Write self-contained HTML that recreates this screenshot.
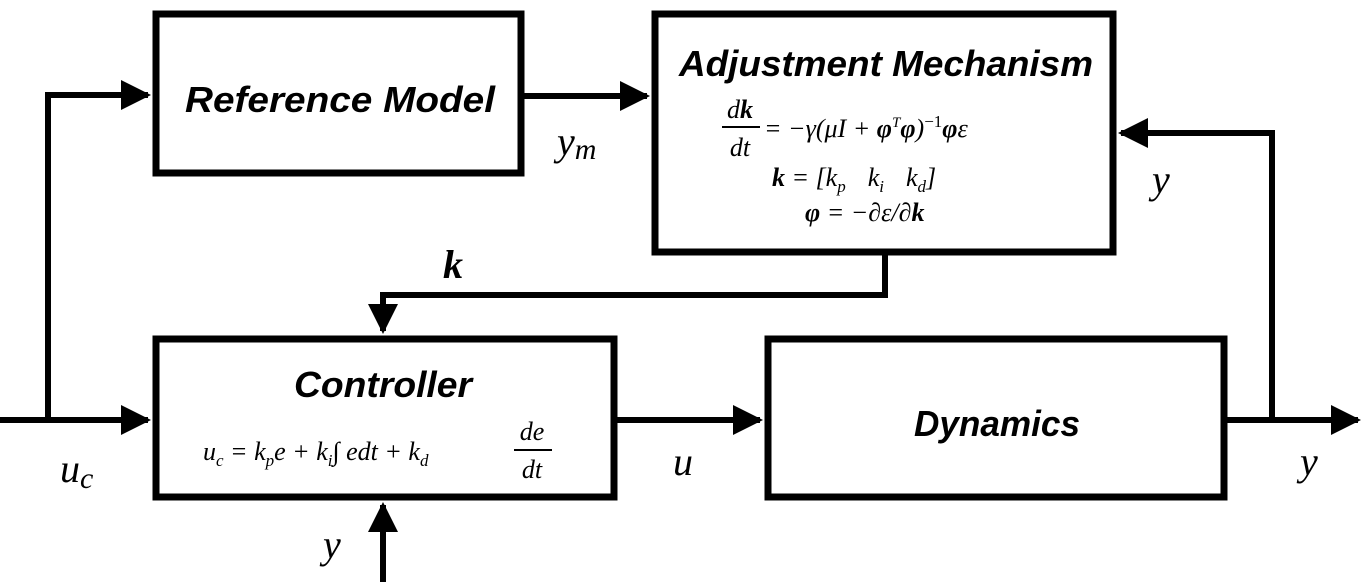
<!DOCTYPE html>
<html><head><meta charset="utf-8"><style>
html,body{margin:0;padding:0;background:#fff;}
svg{display:block}
.t{font-family:"Liberation Sans",sans-serif;font-weight:bold;font-style:italic;}
.m{font-family:"Liberation Serif",serif;font-style:italic;}
.r{font-family:"Liberation Serif",serif;font-style:normal;}
</style></head><body>
<svg width="1367" height="582" viewBox="0 0 1367 582" xmlns="http://www.w3.org/2000/svg">
<defs>
<marker id="a" markerWidth="5" markerHeight="5" refX="4.5" refY="2.5" orient="auto" markerUnits="strokeWidth"><path d="M0,0 L5,2.5 L0,5z" fill="#000"/></marker>
</defs>
<g fill="none" stroke="#000" stroke-width="7">
<rect x="156" y="14" width="365" height="159"/>
<rect x="655" y="14" width="458" height="238"/>
<rect x="156" y="339" width="458" height="158"/>
<rect x="768" y="339" width="456" height="158"/>
</g>
<g fill="none" stroke="#000" stroke-width="6">
<path d="M0,420 H148" marker-end="url(#a)"/>
<path d="M48,420 V95 H148" marker-end="url(#a)"/>
<path d="M524,96 H647" marker-end="url(#a)"/>
<path d="M885,255 V295 H383 V331" marker-end="url(#a)"/>
<path d="M617,420 H760" marker-end="url(#a)"/>
<path d="M1227,420 H1358" marker-end="url(#a)"/>
<path d="M1272,420 V133 H1121" marker-end="url(#a)"/>
<path d="M383,582 V505" marker-end="url(#a)"/>
</g>
<text class="t" x="340" y="112" font-size="36" text-anchor="middle" textLength="310" lengthAdjust="spacingAndGlyphs">Reference Model</text>
<text class="t" x="886" y="76" font-size="36" text-anchor="middle" textLength="414" lengthAdjust="spacingAndGlyphs">Adjustment Mechanism</text>
<text class="t" x="383" y="397" font-size="36" text-anchor="middle" textLength="178" lengthAdjust="spacingAndGlyphs">Controller</text>
<text class="t" x="997" y="436" font-size="36" text-anchor="middle" textLength="166" lengthAdjust="spacingAndGlyphs">Dynamics</text>
<!-- adjustment equations -->
<g font-size="26">
<text class="m" x="740" y="118" text-anchor="middle">d<tspan font-weight="bold">k</tspan></text>
<line x1="722" y1="127" x2="760" y2="127" stroke="#000" stroke-width="2"/>
<text class="m" x="740" y="156" text-anchor="middle">dt</text>
<text class="m" x="764" y="137">= −γ(μI + <tspan font-weight="bold">φ</tspan><tspan font-size="15" dy="-10">T</tspan><tspan font-weight="bold" dy="10">φ</tspan>)<tspan font-size="17" dy="-10" class="r">−1</tspan><tspan dy="10" font-weight="bold">φ</tspan>ε</text>
<text class="m" x="772" y="186"><tspan font-weight="bold">k</tspan> = [k<tspan font-size="17" dy="6">p</tspan><tspan dy="-6" dx="22">k</tspan><tspan font-size="17" dy="6">i</tspan><tspan dy="-6" dx="22">k</tspan><tspan font-size="17" dy="6">d</tspan><tspan dy="-6">]</tspan></text>
<text class="m" x="805" y="221"><tspan font-weight="bold">φ</tspan> = −∂ε/∂<tspan font-weight="bold">k</tspan></text>
</g>
<!-- controller eq -->
<g font-size="26">
<text class="m" x="203" y="460">u<tspan font-size="17" dy="6">c</tspan><tspan dy="-6"> = k</tspan><tspan font-size="17" dy="6">p</tspan><tspan dy="-6">e + k</tspan><tspan font-size="17" dy="6">i</tspan><tspan dy="-6" class="r">∫</tspan> edt + k<tspan font-size="17" dy="6">d</tspan></text>
<text class="m" x="532" y="440" text-anchor="middle">de</text>
<line x1="514" y1="450" x2="552" y2="450" stroke="#000" stroke-width="2"/>
<text class="m" x="532" y="478" text-anchor="middle">dt</text>
</g>
<!-- signal labels -->
<g font-size="40" class="m">
<text x="557" y="155">y<tspan font-size="30" dy="4">m</tspan></text>
<text x="1152" y="193">y</text>
<text x="443" y="278" font-weight="bold">k</text>
<text x="60" y="482">u<tspan font-size="30" dy="6">c</tspan></text>
<text x="673" y="475">u</text>
<text x="1300" y="475">y</text>
<text x="323" y="558">y</text>
</g>
</svg>
</body></html>
